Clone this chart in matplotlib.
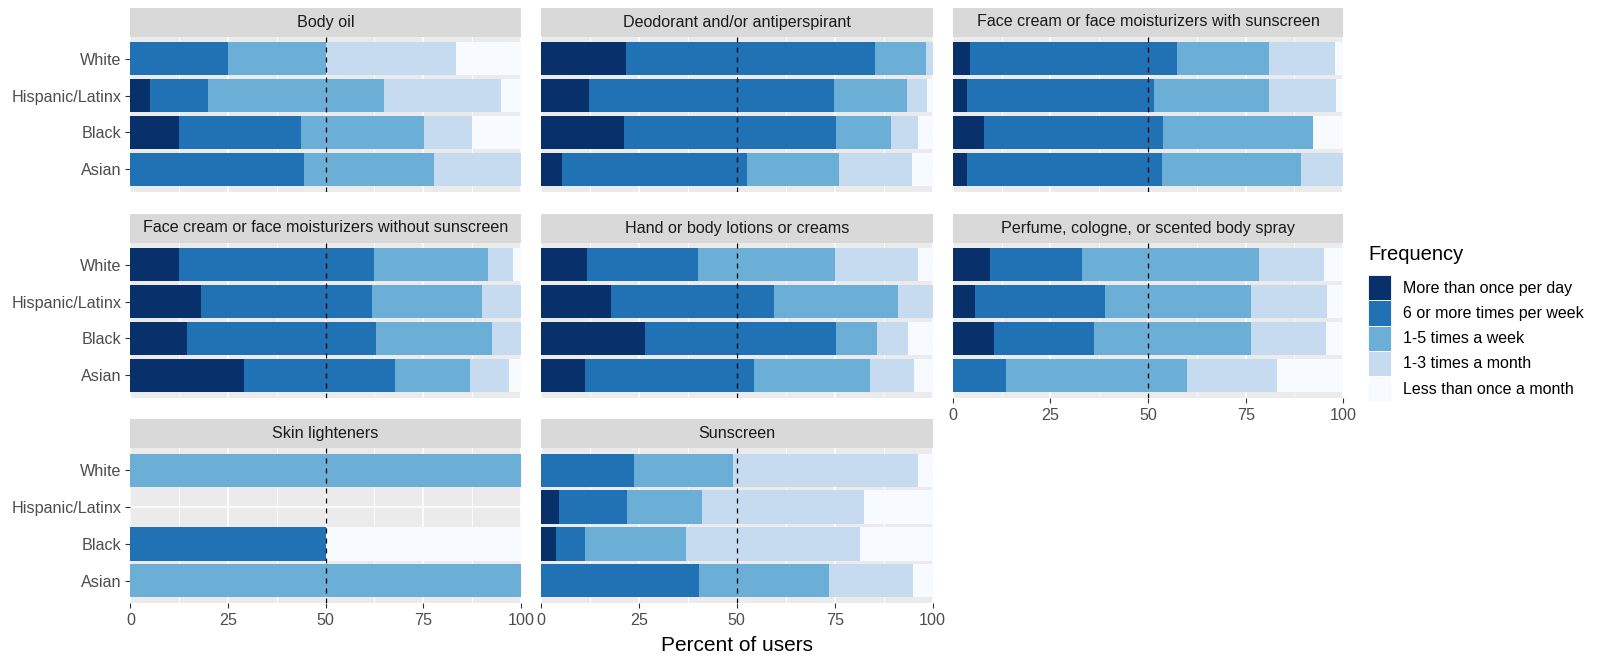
import numpy as np
import matplotlib.pyplot as plt
from matplotlib.patches import Patch

plt.rcParams['font.family'] = ['Liberation Sans', 'DejaVu Sans']

# groups listed top to bottom
groups = ["White", "Hispanic/Latinx", "Black", "Asian"]
levels = ["More than once per day", "6 or more times per week", "1-5 times a week",
          "1-3 times a month", "Less than once a month"]
colors = ["#08306b", "#2171b5", "#6baed6", "#c6dbef", "#f7fbff"]

# percent of users per frequency level, rows follow `groups`
body_oil = [[0, 25, 25, 33.3, 16.7],
            [5, 15, 45, 30, 5],
            [12.5, 31.3, 31.3, 12.5, 12.5],
            [0, 44.4, 33.3, 22.3, 0]]
deodorant = [[21.7, 63.5, 13.2, 1.6, 0],
             [12.2, 62.6, 18.6, 5.3, 1.3],
             [21.2, 54.1, 14.1, 7.0, 3.6],
             [5.4, 47.1, 23.6, 18.6, 5.3]]
face_spf = [[4.3, 53.2, 23.4, 16.9, 2.2],
            [3.7, 47.9, 29.3, 17.2, 1.9],
            [7.9, 45.9, 38.4, 0, 7.8],
            [3.7, 49.9, 35.5, 10.9, 0]]
face_no_spf = [[12.4, 50.0, 29.2, 6.5, 1.9],
               [18.1, 43.8, 28.2, 9.9, 0],
               [14.6, 48.4, 29.7, 7.3, 0],
               [29.0, 38.9, 19.1, 9.9, 3.1]]
lotions = [[11.6, 28.4, 35.0, 21.4, 3.6],
           [17.8, 41.7, 31.6, 8.9, 0],
           [26.5, 48.8, 10.5, 7.9, 6.3],
           [11.3, 43.1, 29.6, 11.3, 4.7]]
perfume = [[9.5, 23.7, 45.2, 16.6, 5.0],
           [5.6, 33.3, 37.5, 19.4, 4.2],
           [10.6, 25.5, 40.3, 19.2, 4.4],
           [0, 13.5, 46.6, 23.0, 16.9]]
lighteners = [[0, 0, 100, 0, 0],
              [0, 0, 0, 0, 0],
              [0, 50, 0, 0, 50],
              [0, 0, 100, 0, 0]]
sunscreen = [[0, 23.7, 25.4, 47.3, 3.6],
             [4.5, 17.5, 19.1, 41.3, 17.6],
             [3.7, 7.6, 25.7, 44.4, 18.6],
             [0, 40.4, 33.2, 21.5, 4.9]]

titles = ["Body oil", "Deodorant and/or antiperspirant",
          "Face cream or face moisturizers with sunscreen",
          "Face cream or face moisturizers without sunscreen",
          "Hand or body lotions or creams",
          "Perfume, cologne, or scented body spray",
          "Skin lighteners", "Sunscreen"]
panels = [body_oil, deodorant, face_spf, face_no_spf, lotions, perfume, lighteners, sunscreen]

W, H = 1598, 656
fig = plt.figure(figsize=(W / 100, H / 100), dpi=100)

def px_axes(x0, y0, x1, y1):
    return fig.add_axes([x0 / W, 1 - y1 / H, (x1 - x0) / W, (y1 - y0) / H])

col_x = [(130.4, 520.8), (541.1, 932.5), (952.9, 1343.2)]
row_y = [7.5, 213.5, 419.0]
strip_h, panel_h = 29, 155
txt = "#4d4d4d"
ypos = np.arange(len(groups))[::-1] + 1

for i, (title, data) in enumerate(zip(titles, panels)):
    r, c = divmod(i, 3)
    x0, x1 = col_x[c]
    top = row_y[r]
    sax = px_axes(x0, top, x1, top + strip_h)
    sax.set_facecolor("#d9d9d9")
    sax.set_xticks([]); sax.set_yticks([])
    for s in sax.spines.values():
        s.set_visible(False)
    sax.text(0.5, 0.5, title, ha="center", va="center", fontsize=11.6,
             color="#1a1a1a", transform=sax.transAxes)

    ax = px_axes(x0, top + strip_h, x1, top + strip_h + panel_h)
    ax.set_facecolor("#ebebeb")
    vals = np.array(data, dtype=float)
    left = np.zeros(len(groups))
    for k in range(len(levels)):
        ax.barh(ypos, vals[:, k], left=left, height=0.9, color=colors[k],
                linewidth=0, zorder=3)
        left += vals[:, k]
    ax.axvline(50, color="black", lw=0.9, ls=(0, (4, 4)), zorder=4)

    ax.set_xlim(0, 100)
    ax.set_ylim(0.4, 4.6)
    ax.set_xticks([0, 25, 50, 75, 100])
    ax.set_xticks([12.5, 37.5, 62.5, 87.5], minor=True)
    ax.set_yticks(ypos)
    ax.grid(True, which="major", color="white", lw=1.1, zorder=1)
    ax.grid(True, which="minor", axis="x", color="white", lw=0.55, zorder=1)
    for s in ax.spines.values():
        s.set_visible(False)
    ax.tick_params(which="minor", length=0)
    ax.tick_params(axis="both", which="major", length=3.8, width=0.8,
                   color="#333333", labelsize=11.6, labelcolor=txt, pad=2.5)
    ax.tick_params(axis="x", pad=3.5)

    show_x = (r == 2) or (r == 1 and c == 2)
    if show_x:
        ax.set_xticklabels(["0", "25", "50", "75", "100"])
    else:
        ax.tick_params(axis="x", length=0, labelbottom=False)
    if c == 0:
        ax.set_yticklabels(groups)
    else:
        ax.tick_params(axis="y", length=0, labelleft=False)
    if r == 2 and c == 1:
        ax.set_xlabel("Percent of users", fontsize=15, color="black", labelpad=6)

handles = [Patch(facecolor=col, edgecolor="white", lw=0.6) for col in colors]
leg = fig.legend(handles, levels, title="Frequency", loc="upper left",
                 bbox_to_anchor=(1368 / W, 1 - 245 / H), frameon=False,
                 fontsize=11.5, title_fontsize=14.5, handlelength=1.46,
                 handleheight=2.05, labelspacing=0, handletextpad=0.75,
                 borderpad=0, borderaxespad=0, alignment="left")
leg._legend_box.sep = 8

fig.savefig("out.png", dpi=100)
